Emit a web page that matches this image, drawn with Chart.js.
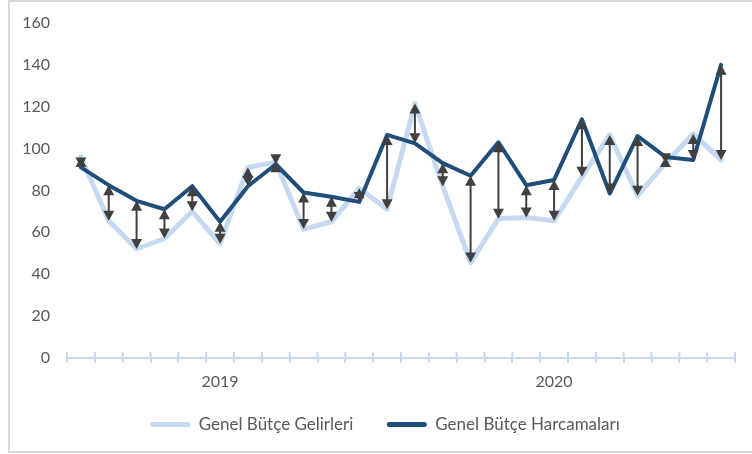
<!DOCTYPE html>
<html><head><meta charset="utf-8">
<script src="https://cdn.jsdelivr.net/npm/chart.js@4/dist/chart.umd.min.js"></script>
<style>html,body{margin:0;padding:0;background:#fff}#w{width:752px;height:454px;position:relative}</style>
</head><body><div id="w"><canvas id="c" width="752" height="454"></canvas></div>
<script>
const categories = ['Oca 2019','Şub 2019','Mar 2019','Nis 2019','May 2019','Haz 2019','Tem 2019','Ağu 2019','Eyl 2019','Eki 2019','Kas 2019','Ara 2019',
  'Oca 2020','Şub 2020','Mar 2020','Nis 2020','May 2020','Haz 2020','Tem 2020','Ağu 2020','Eyl 2020','Eki 2020','Kas 2020','Ara 2020'];
const xTickLabels = ['','','','','','2019','','','','','','','','','','','','2020','','','','','',''];
const gelirler = [96, 65.5, 52, 57, 70, 54.5, 91, 93.5, 61.5, 65, 81, 71, 121.5, 82, 45.5, 66.5, 67, 65.5, 86.5, 106.5, 77.5, 93, 107, 94.5];
const harcamalar = [91, 82.5, 75, 71, 82, 65, 82, 92.5, 79, 77, 74.5, 106.5, 102.5, 93, 87, 103, 82.5, 85, 114, 78.5, 106, 96, 94.5, 140];
const yTicks = [0, 20, 40, 60, 80, 100, 120, 140, 160];

const FONT = 'Lato, "Open Sans", sans-serif';
const TXT = '#595959';
const LEGEND_PAD = 16, LEGEND_GAP = 33.5;

const frame = {
  id: 'frame',
  beforeDraw(chart) {
    const c = chart.ctx;
    c.save();
    c.fillStyle = '#fff'; c.fillRect(0, 0, chart.width, chart.height);
    c.strokeStyle = '#d9d9d9'; c.lineWidth = 2;
    c.strokeRect(9, 1, chart.width + 10, chart.height - 3);
    c.restore();
  }
};
const legendSpacing = {
  id: 'legendSpacing',
  afterLayout(chart) {
    const lg = chart.legend;
    if (!lg) return;
    try {
      lg.options.labels.padding = LEGEND_GAP;
      lg.top -= (LEGEND_GAP - LEGEND_PAD);
    } catch (e) {}
  }
};
const upTicks = {
  id: 'upTicks',
  afterDraw(chart) {
    const xs = chart.scales.x, c = chart.ctx;
    c.save(); c.strokeStyle = '#c5d9f1'; c.lineWidth = 2;
    const half = (xs.getPixelForValue(1) - xs.getPixelForValue(0)) / 2;
    for (let i = 0; i <= categories.length; i++) {
      const x = xs.getPixelForValue(i) - half;
      c.beginPath(); c.moveTo(x, xs.top - 6); c.lineTo(x, xs.top + 1); c.stroke();
    }
    c.restore();
  }
};
const arrows = {
  id: 'arrows',
  afterDatasetsDraw(chart) {
    const xs = chart.scales.x, ys = chart.scales.y, c = chart.ctx;
    c.save();
    c.fillStyle = '#404040'; c.strokeStyle = '#404040'; c.lineWidth = 2;
    const h = 10, w = 11;
    for (let i = 0; i < categories.length; i++) {
      const x = xs.getPixelForValue(i);
      const a = ys.getPixelForValue(gelirler[i]), b = ys.getPixelForValue(harcamalar[i]);
      const top = Math.min(a, b), bot = Math.max(a, b);
      c.beginPath(); c.moveTo(x, top + 2); c.lineTo(x, bot - 2); c.stroke();
      c.beginPath(); c.moveTo(x, top); c.lineTo(x - w / 2, top + h); c.lineTo(x + w / 2, top + h); c.closePath(); c.fill();
      c.beginPath(); c.moveTo(x, bot); c.lineTo(x - w / 2, bot - h); c.lineTo(x + w / 2, bot - h); c.closePath(); c.fill();
    }
    c.restore();
  }
};

new Chart(document.getElementById('c'), {
  type: 'line',
  data: {
    labels: categories,
    datasets: [
      { label: 'Genel Bütçe Gelirleri', data: gelirler, borderColor: '#c5d9f1', backgroundColor: '#c5d9f1', borderWidth: 5, order: 1 },
      { label: 'Genel Bütçe Harcamaları', data: harcamalar, borderColor: '#1f4e7a', backgroundColor: '#1f4e7a', borderWidth: 4, order: 0 }
    ]
  },
  options: {
    responsive: false,
    animation: false,
    devicePixelRatio: 1,
    layout: { padding: { left: 0, right: 17, top: 23, bottom: 11 } },
    elements: { point: { radius: 0 }, line: { tension: 0, borderCapStyle: 'round', borderJoinStyle: 'round' } },
    plugins: {
      tooltip: { enabled: false },
      legend: {
        position: 'bottom',
        labels: {
          font: { family: FONT, size: 17 }, color: TXT,
          boxWidth: 40, boxHeight: 5, padding: LEGEND_PAD,
          sort: (a, b) => a.datasetIndex - b.datasetIndex,
          generateLabels(chart) {
            const items = Chart.defaults.plugins.legend.labels.generateLabels(chart);
            items.forEach(it => { it.fillStyle = it.strokeStyle; it.lineWidth = 0; it.borderRadius = 2.5; });
            return items;
          }
        }
      }
    },
    scales: {
      x: {
        offset: true,
        grid: { display: true, offset: true, drawOnChartArea: false, drawTicks: true, tickLength: 5, color: '#c5d9f1', lineWidth: 2 },
        border: { display: true, color: '#c5d9f1', width: 2 },
        ticks: { autoSkip: false, maxRotation: 0, padding: 9, color: TXT, font: { family: FONT, size: 16 },
          callback: (v, i) => xTickLabels[i] }
      },
      y: {
        min: 0, max: 160,
        afterFit(s) { s.width = 67; s.paddingTop = 0; s.paddingBottom = 0; },
        afterBuildTicks(s) { s.ticks = yTicks.map(v => ({ value: v })); },
        grid: { display: false, drawTicks: false },
        border: { display: false },
        ticks: { padding: 17, color: TXT, font: { family: FONT, size: 16 } }
      }
    }
  },
  plugins: [frame, legendSpacing, upTicks, arrows]
});
</script></body></html>
